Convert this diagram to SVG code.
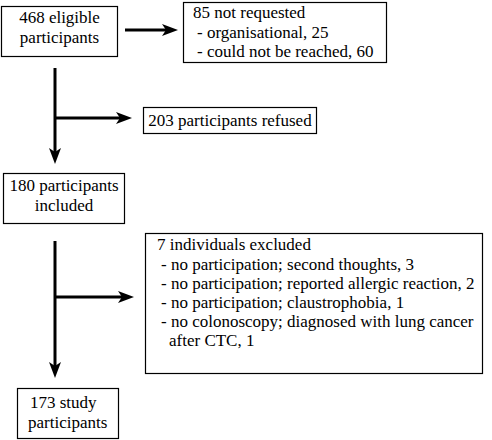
<svg xmlns="http://www.w3.org/2000/svg" width="492" height="440" viewBox="0 0 492 440">
<style>
.box{fill:#fff;stroke:#000;stroke-width:1.2}
.ln{stroke:#000;stroke-width:3;fill:none}
.ah{fill:#000;stroke:none}
</style>
<rect width="492" height="440" fill="#fff"/>
<g id="connectors">
<line class="ln" x1="125" y1="30" x2="166" y2="30"/>
<polygon class="ah" points="178,30 162,24 166,30 162,36"/>
<line class="ln" x1="55" y1="68" x2="55" y2="152"/>
<polygon class="ah" points="55,164 49,148 55,152 61,148"/>
<line class="ln" x1="55" y1="118" x2="120" y2="118"/>
<polygon class="ah" points="132,118 116,112 120,118 116,124"/>
<line class="ln" x1="55" y1="241" x2="55" y2="366"/>
<polygon class="ah" points="55,378 49,362 55,366 61,362"/>
<line class="ln" x1="55" y1="297" x2="122" y2="297"/>
<polygon class="ah" points="134,297 118,291 122,297 118,303"/>
</g>
<g id="n1"><rect class="box" x="1.5" y="6.5" width="116" height="50"/>
<text x="59.5" y="23" text-anchor="middle" font-family="Liberation Serif" font-size="17">468 eligible</text>
<text x="59.5" y="43" text-anchor="middle" font-family="Liberation Serif" font-size="17">participants</text></g>
<g id="n2"><rect class="box" x="183.5" y="2.5" width="203" height="60"/>
<text x="193" y="18" font-family="Liberation Serif" font-size="17">85 not requested</text>
<text x="197" y="38" font-family="Liberation Serif" font-size="17">- organisational, 25</text>
<text x="197" y="57" font-family="Liberation Serif" font-size="17">- could not be reached, 60</text></g>
<g id="n3"><rect class="box" x="143.5" y="107.5" width="173" height="26"/>
<text x="230" y="126" text-anchor="middle" font-family="Liberation Serif" font-size="17">203 participants refused</text></g>
<g id="n4"><rect class="box" x="3.5" y="173.5" width="121" height="50"/>
<text x="64" y="191" text-anchor="middle" font-family="Liberation Serif" font-size="17">180 participants</text>
<text x="64" y="211" text-anchor="middle" font-family="Liberation Serif" font-size="17">included</text></g>
<g id="n5"><rect class="box" x="145.5" y="233.5" width="337" height="140"/>
<text x="157" y="250" font-family="Liberation Serif" font-size="17">7 individuals excluded</text>
<text x="161" y="270" font-family="Liberation Serif" font-size="17">- no participation; second thoughts, 3</text>
<text x="161" y="289" font-family="Liberation Serif" font-size="17">- no participation; reported allergic reaction, 2</text>
<text x="161" y="308" font-family="Liberation Serif" font-size="17">- no participation; claustrophobia, 1</text>
<text x="161" y="327" font-family="Liberation Serif" font-size="17">- no colonoscopy; diagnosed with lung cancer</text>
<text x="169" y="346" font-family="Liberation Serif" font-size="17">after CTC, 1</text></g>
<g id="n6"><rect class="box" x="17.5" y="388.5" width="101" height="50"/>
<text x="30" y="408" font-family="Liberation Serif" font-size="17">173 study</text>
<text x="28" y="428" font-family="Liberation Serif" font-size="17">participants</text></g>
</svg>
